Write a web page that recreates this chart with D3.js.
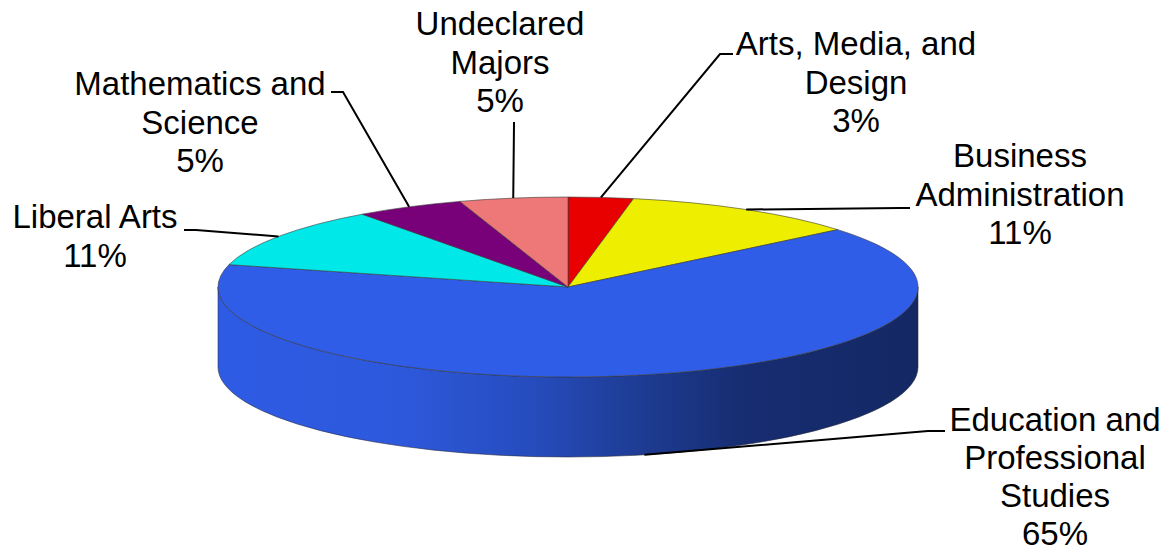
<!DOCTYPE html>
<html>
<head>
<meta charset="utf-8">
<script src="https://cdn.jsdelivr.net/npm/d3@7/dist/d3.min.js"></script>
<style>
  html, body { margin: 0; padding: 0; background: #ffffff; }
  svg { display: block; }
  text { font-family: "Liberation Sans", Arial, sans-serif; fill: #000; }
</style>
</head>
<body>
<svg id="chart" width="1172" height="552"></svg>
<script>
// Enrollment share by college (clockwise from 12 o'clock)
const categories = [
  "Arts, Media, and\nDesign",
  "Business\nAdministration",
  "Education and\nProfessional\nStudies",
  "Liberal Arts",
  "Mathematics and\nScience",
  "Undeclared\nMajors"
];
const values = [3, 11, 65, 11, 5, 5];
const colors = ["#e80000", "#eeee00", "#2f5de8", "#00e8e8", "#780078", "#ee7878"];

// Label placement: text centre, first baseline, line spacing, and the elbow where the leader meets the text
const labelLayout = [
  { x: 856,  y: 55,  lh: 38.7, elbow: [[733, 54], [720, 54]] },
  { x: 1020, y: 167, lh: 38.7, elbow: [[910, 208], [900, 208]] },
  { x: 1055, y: 431, lh: 38,   elbow: [[945, 431], [928, 431]] },
  { x: 95,   y: 228, lh: 38.7, elbow: [[184, 230], [196, 230]] },
  { x: 200,  y: 95,  lh: 38.7, elbow: [[331, 92], [343, 92]] },
  { x: 500,  y: 35,  lh: 38.7, elbow: [[514, 122], [514, 124]] }
];

const svg = d3.select("#chart");
const cx = 568, cy = 287, rx = 350, ry = 90, depth = 80;
const fontSize = 33;

// project an angle (clockwise from top) onto the tilted disc
const pt = (a, dy = 0) => [cx + rx * Math.sin(a), cy - ry * Math.cos(a) + dy];

const arcs = d3.pie().sort(null).value(d => d)(values);
const defs = svg.append("defs");

// side walls (only the front half of the disc is visible)
const sides = svg.append("g");
arcs.forEach((d, i) => {
  const s = Math.max(d.startAngle, Math.PI / 2);
  const e = Math.min(d.endAngle, Math.PI * 3 / 2);
  if (s >= e) return;
  const base = d3.color(colors[i]);
  const dark = d3.rgb(base.r * 0.43, base.g * 0.43, base.b * 0.43);
  const interp = d3.interpolateRgb(base.darker(0.05), dark);
  const gid = "side" + i;
  const grad = defs.append("linearGradient").attr("id", gid)
    .attr("gradientUnits", "userSpaceOnUse")
    .attr("x1", cx - rx).attr("x2", cx + rx).attr("y1", 0).attr("y2", 0);
  [[0, 0], [0.25, 0.05], [0.45, 0.3], [0.6, 0.62], [0.75, 0.9], [1, 1]].forEach(([o, t]) =>
    grad.append("stop").attr("offset", o).attr("stop-color", interp(t)));
  const [x0, y0] = pt(s), [x1, y1] = pt(e);
  const [x2, y2] = pt(e, depth), [x3, y3] = pt(s, depth);
  sides.append("path")
    .attr("d", `M${x0},${y0}A${rx},${ry} 0 0 1 ${x1},${y1}L${x2},${y2}A${rx},${ry} 0 0 0 ${x3},${y3}Z`)
    .attr("fill", `url(#${gid})`)
    .attr("stroke", "#2a2a3a").attr("stroke-width", 0.8).attr("stroke-opacity", 0.7);
});

// top face slices
svg.append("g").selectAll("path").data(arcs).join("path")
  .attr("d", d => {
    const [x0, y0] = pt(d.startAngle), [x1, y1] = pt(d.endAngle);
    const large = d.endAngle - d.startAngle > Math.PI ? 1 : 0;
    return `M${cx},${cy}L${x0},${y0}A${rx},${ry} 0 ${large} 1 ${x1},${y1}Z`;
  })
  .attr("fill", (d, i) => colors[i])
  .attr("stroke", "#3a3a3a").attr("stroke-width", 0.8).attr("stroke-opacity", 0.75)
  .attr("stroke-linejoin", "round");

// leader lines: from slice mid-point (bottom rim for front slices) to the label
const leaders = svg.append("g").attr("fill", "none").attr("stroke", "#000").attr("stroke-width", 2);
arcs.forEach((d, i) => {
  const mid = (d.startAngle + d.endAngle) / 2;
  const anchor = pt(mid, Math.cos(mid) < 0 ? depth : 0);
  const pts = [...labelLayout[i].elbow, anchor];
  leaders.append("path").attr("d", d3.line()(pts));
});

// labels
const fmt = d3.format(".0%");
const total = d3.sum(values);
const labels = svg.append("g").attr("font-size", fontSize).attr("text-anchor", "middle");
categories.forEach((c, i) => {
  const L = labelLayout[i];
  const lines = c.split("\n").concat(fmt(values[i] / total));
  const t = labels.append("text").attr("x", L.x).attr("y", L.y);
  lines.forEach((ln, k) => {
    t.append("tspan").attr("x", L.x).attr("y", L.y + k * L.lh).text(ln);
  });
});
</script>
</body>
</html>
